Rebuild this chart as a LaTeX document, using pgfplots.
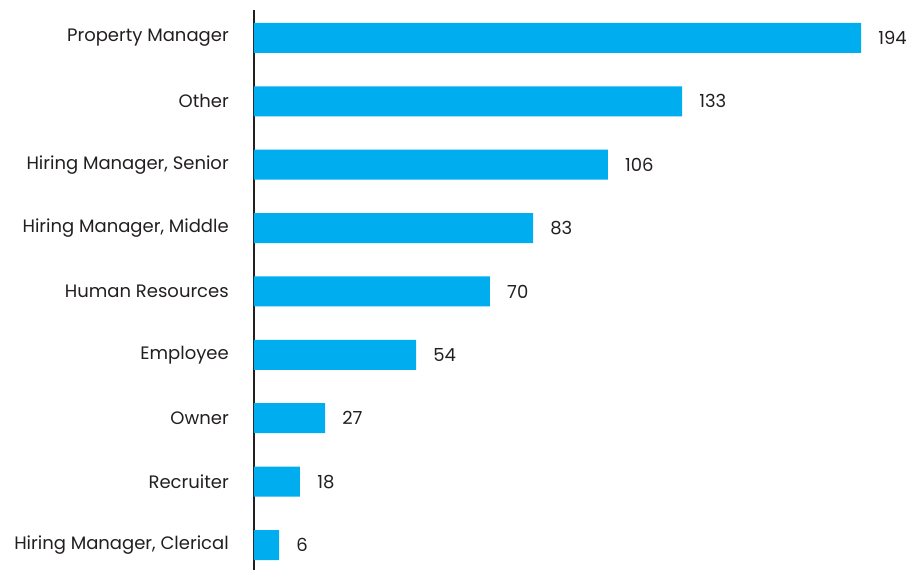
\documentclass[border=0pt]{standalone}
\usepackage{fontspec}
\setmainfont{Poppins}
\usepackage{pgfplots}
\pgfplotsset{compat=1.18}
\definecolor{barblue}{HTML}{00AEEF}
\definecolor{txt}{HTML}{231F20}
\begin{document}
\begin{tikzpicture}
\path[use as bounding box] (-190.5pt,0pt) rectangle (494.25pt,427.5pt);
\begin{axis}[
  at={(0pt,0pt)}, anchor=south west,
  scale only axis,
  width=469.35pt, height=420pt,
  xmin=0, xmax=200,
  ymin=-0.394, ymax=8.44,
  xbar, bar width=22.5pt, bar shift=0pt,
  axis x line=none,
  axis y line*=left,
  y axis line style={draw=txt, line width=1.6pt},
  ytick={0,...,8},
  yticklabels={{Hiring Manager, Clerical},Recruiter,Owner,Employee,{Human Resources},{Hiring Manager, Middle},{Hiring Manager, Senior},Other,{Property Manager}},
  major tick length=0pt,
  yticklabel style={font=\fontsize{13.5}{16}\selectfont, text=txt, inner sep=0pt, anchor=east, xshift=-18.75pt},
  point meta=explicit symbolic,
  nodes near coords,
  nodes near coords style={font=\fontsize{13.5}{16}\selectfont, text=txt, anchor=west, inner sep=0pt, xshift=12.75pt},
  clip=false,
]
\addplot[fill=barblue, draw=none] coordinates {
  (8.0,0) [6]
  (14.7,1) [18]
  (22.7,2) [27]
  (51.8,3) [54]
  (75.4,4) [70]
  (89.2,5) [83]
  (113.1,6) [106]
  (136.8,7) [133]
  (194,8) [194]
};
\end{axis}
\end{tikzpicture}
\end{document}
